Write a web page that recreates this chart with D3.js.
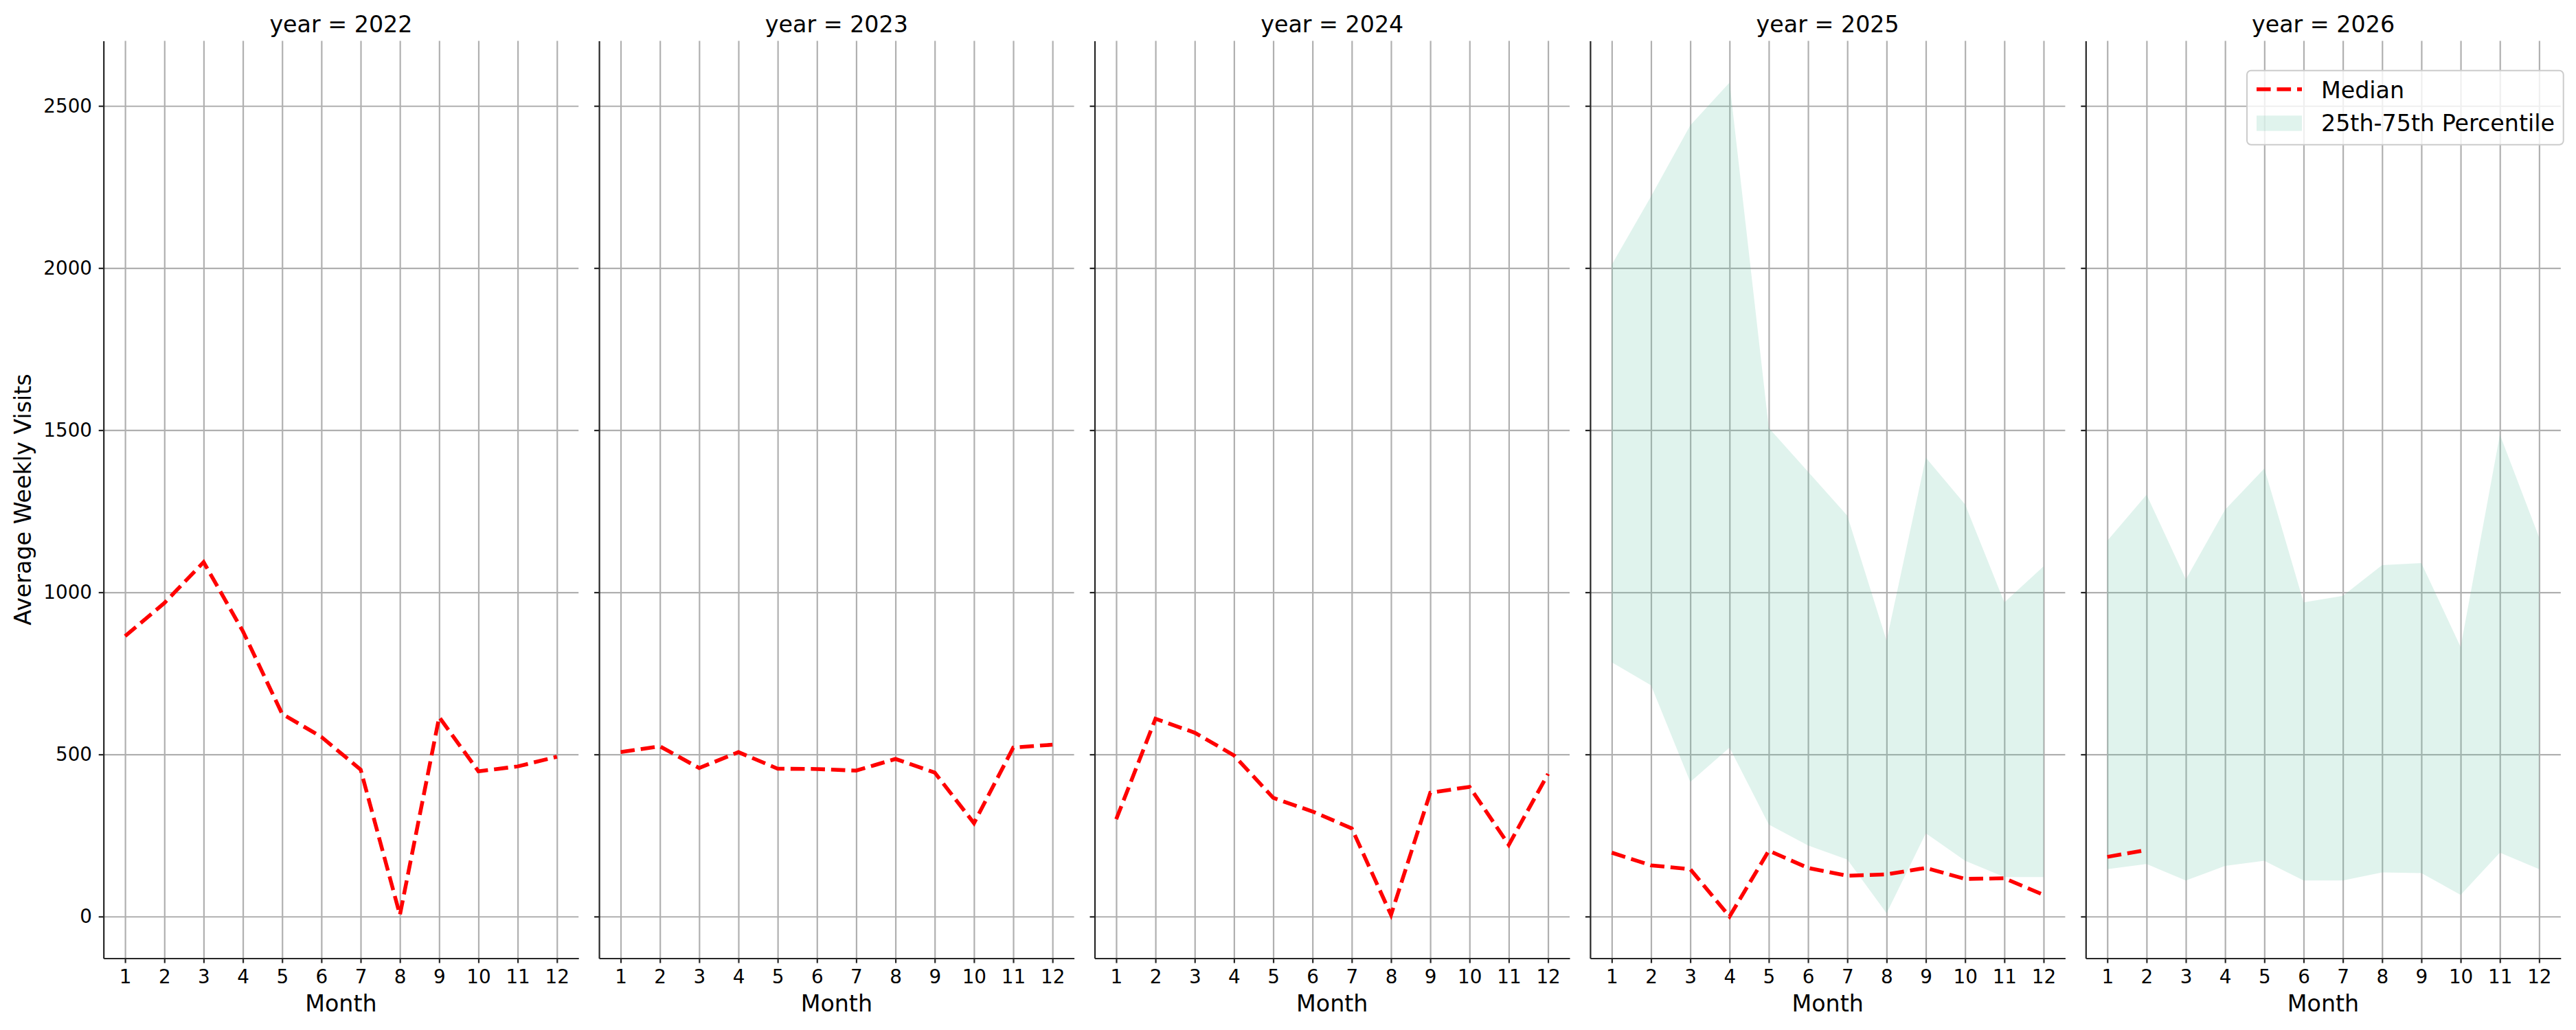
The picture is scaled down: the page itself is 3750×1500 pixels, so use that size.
<!DOCTYPE html>
<html>
<head>
  <meta charset="utf-8">
  <title>Average Weekly Visits by Month</title>
  <script src="https://d3js.org/d3.v7.min.js"></script>
  <style>
    body { margin: 0; background: #fff; }
    text { font-family: "DejaVu Sans", sans-serif; fill: #000; }
    .grid line { stroke: #b0b0b0; stroke-width: 2.2; }
    .grid path { display: none; }
    .axis path, .axis line { stroke: #262626; stroke-width: 2.2; }
    .axis text { font-size: 27.8px; fill: #000; font-family: "DejaVu Sans", sans-serif; }
  </style>
</head>
<body>
<script>
  const months = [1, 2, 3, 4, 5, 6, 7, 8, 9, 10, 11, 12];
  const years = [2022, 2023, 2024, 2025, 2026];
  const yTicks = [0, 500, 1000, 1500, 2000, 2500];

  // medians
  const median2022 = [865, 967, 1093, 880, 625, 554, 453, 5, 615, 448, 463, 493];
  const median2023 = [507, 525, 458, 507, 456, 455, 450, 486, 444, 288, 521, 530];
  const median2024 = [300, 610, 567, 497, 366, 324, 272, 5, 382, 400, 221, 440];
  const median2025 = [197, 158, 146, 0, 203, 150, 126, 130, 150, 116, 118, 67];
  const median2026 = [184, 205];

  // 25th-75th percentile band
  const p25_2025 = [784, 713, 415, 521, 284, 219, 176, 10, 257, 172, 122, 122];
  const p75_2025 = [2010, 2221, 2440, 2572, 1507, 1372, 1236, 851, 1415, 1271, 969, 1080];
  const p25_2026 = [146, 162, 111, 156, 172, 111, 111, 136, 134, 67, 197, 146];
  const p75_2026 = [1159, 1301, 1040, 1255, 1382, 969, 989, 1084, 1090, 831, 1486, 1169];

  const medians = [median2022, median2023, median2024, median2025, median2026];
  const bands = [null, null, null, [p25_2025, p75_2025], [p25_2026, p75_2026]];

  const width = 3750;
  const height = 1500;
  const panelLeft = 150.7;
  const panelStep = 721.4;
  const panelWidth = 691.5;
  const plotTop = 59.5;
  const plotBottom = 1395.5;

  const svg = d3.select("body")
    .append("svg")
    .attr("width", width)
    .attr("height", height);

  const yMax = d3.max([].concat(...medians, p75_2025, p75_2026));
  const pad = yMax * 0.05;

  const x = d3.scaleLinear()
    .domain([1 - 0.55, 12 + 0.55])
    .range([0, panelWidth]);

  const y = d3.scaleLinear()
    .domain([-pad, yMax + pad])
    .range([plotBottom, plotTop]);

  const line = d3.line()
    .x((d, i) => x(months[i]))
    .y(d => y(d));

  const area = d3.area()
    .x(d => x(d.m))
    .y0(d => y(d.lo))
    .y1(d => y(d.hi));

  years.forEach((year, i) => {
    const g = svg.append("g")
      .attr("transform", `translate(${panelLeft + i * panelStep},0)`);

    // grid first, so the band tints it
    g.append("g")
      .attr("class", "grid")
      .attr("transform", `translate(0,${plotBottom})`)
      .call(d3.axisBottom(x).tickValues(months).tickSize(-(plotBottom - plotTop)).tickFormat(""));

    g.append("g")
      .attr("class", "grid")
      .call(d3.axisLeft(y).tickValues(yTicks).tickSize(-panelWidth).tickFormat(""));

    if (bands[i]) {
      const [lo, hi] = bands[i];
      const rows = months.map((m, k) => ({m: m, lo: lo[k], hi: hi[k]}));
      g.append("path")
        .attr("d", area(rows))
        .attr("fill", "#66c2a5")
        .attr("fill-opacity", 0.2);
    }

    g.append("path")
      .attr("d", line(medians[i]))
      .attr("fill", "none")
      .attr("stroke", "red")
      .attr("stroke-width", 5.56)
      .attr("stroke-dasharray", "20.6,8.9");

    // axes (left and bottom spines only)
    g.append("g")
      .attr("class", "axis")
      .attr("transform", `translate(0,${plotBottom})`)
      .call(d3.axisBottom(x).tickValues(months).tickFormat(d3.format("d"))
        .tickSize(7).tickPadding(9.7).tickSizeOuter(0));

    const yAxis = d3.axisLeft(y).tickValues(yTicks).tickFormat(d3.format("d"))
      .tickSize(7).tickPadding(9.7).tickSizeOuter(0);
    if (i > 0) yAxis.tickFormat("");
    g.append("g")
      .attr("class", "axis")
      .call(yAxis);

    g.append("text")
      .attr("x", panelWidth / 2)
      .attr("y", 46.5)
      .attr("text-anchor", "middle")
      .style("font-size", "33.3px")
      .text(`year = ${year}`);

    g.append("text")
      .attr("x", panelWidth / 2)
      .attr("y", 1473)
      .attr("text-anchor", "middle")
      .style("font-size", "33.3px")
      .text("Month");
  });

  svg.append("text")
    .attr("transform", "rotate(-90)")
    .attr("x", -(plotTop + plotBottom) / 2)
    .attr("y", 45)
    .attr("text-anchor", "middle")
    .style("font-size", "33.3px")
    .text("Average Weekly Visits");

  // legend
  const legend = svg.append("g").attr("transform", "translate(3271,102.7)");
  legend.append("rect")
    .attr("width", 460.7)
    .attr("height", 108)
    .attr("rx", 6)
    .attr("fill", "#fff")
    .attr("fill-opacity", 0.8)
    .attr("stroke", "#cccccc")
    .attr("stroke-width", 2);

  legend.append("line")
    .attr("x1", 14).attr("x2", 80)
    .attr("y1", 27.3).attr("y2", 27.3)
    .attr("stroke", "red")
    .attr("stroke-width", 5.56)
    .attr("stroke-dasharray", "20.6,8.9");

  legend.append("rect")
    .attr("x", 14).attr("y", 65.6)
    .attr("width", 66).attr("height", 22.4)
    .attr("fill", "#66c2a5")
    .attr("fill-opacity", 0.2);

  legend.append("text")
    .attr("x", 108).attr("y", 40)
    .style("font-size", "33.3px")
    .text("Median");

  legend.append("text")
    .attr("x", 108).attr("y", 88)
    .style("font-size", "33.3px")
    .text("25th-75th Percentile");
</script>
</body>
</html>
